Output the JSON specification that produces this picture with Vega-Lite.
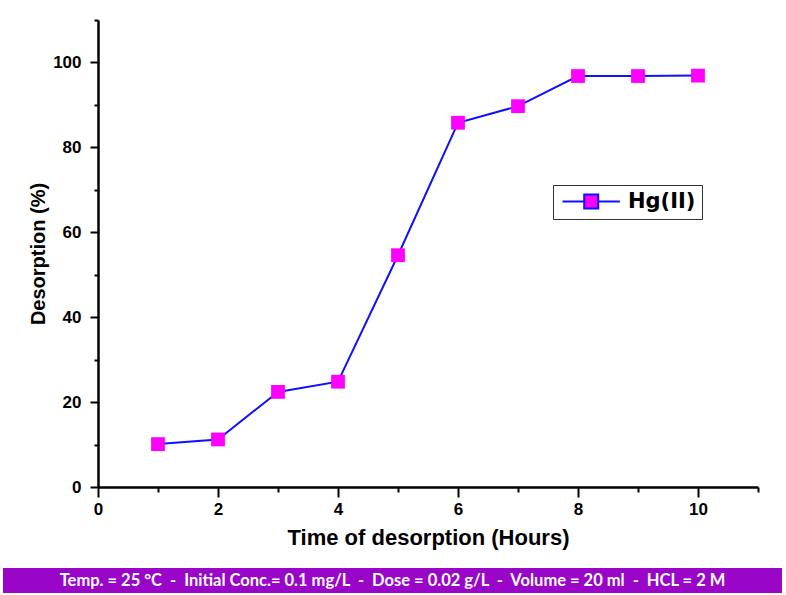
{
  "$schema": "https://vega.github.io/schema/vega-lite/v6.json",
  "background": "white",
  "padding": {"left": 3, "top": 19, "right": 4, "bottom": 3},
  "spacing": 20,
  "config": {
    "view": {"stroke": null},
    "font": "Liberation Sans"
  },
  "datasets": {
    "desorption": [
      {"time": 1, "desorption": 10.1, "series": "Hg(II)"},
      {"time": 2, "desorption": 11.2, "series": "Hg(II)"},
      {"time": 3, "desorption": 22.4, "series": "Hg(II)"},
      {"time": 4, "desorption": 24.8, "series": "Hg(II)"},
      {"time": 5, "desorption": 54.6, "series": "Hg(II)"},
      {"time": 6, "desorption": 85.8, "series": "Hg(II)"},
      {"time": 7, "desorption": 89.7, "series": "Hg(II)"},
      {"time": 8, "desorption": 96.8, "series": "Hg(II)"},
      {"time": 9, "desorption": 96.8, "series": "Hg(II)"},
      {"time": 10, "desorption": 96.9, "series": "Hg(II)"}
    ],
    "caption": [
      {"text": "Temp. = 25 °C\u00a0\u00a0-\u00a0\u00a0Initial Conc.= 0.1 mg/L\u00a0\u00a0-\u00a0\u00a0Dose = 0.02 g/L\u00a0\u00a0-\u00a0\u00a0Volume = 20 ml\u00a0\u00a0-\u00a0\u00a0HCL = 2 M"}
    ],
    "empty": []
  },
  "vconcat": [
    {
      "spacing": 24,
      "hconcat": [
        {
          "width": 1,
          "height": 467,
          "view": {"fill": "white", "stroke": null},
          "data": {"name": "empty"},
          "mark": {"type": "text"},
          "encoding": {}
        },
        {
          "width": 660,
          "height": 467,
          "data": {"name": "desorption"},
          "encoding": {
            "x": {
              "field": "time",
              "type": "quantitative",
              "scale": {"domain": [0, 11], "nice": false, "zero": false},
              "axis": {
                "title": "Time of desorption (Hours)",
                "values": [0, 1, 2, 3, 4, 5, 6, 7, 8, 9, 10, 11],
                "labelExpr": "datum.value % 2 === 0 ? datum.label : ''",
                "grid": false,
                "domainColor": "black",
                "domainWidth": 2.5,
                "tickColor": "black",
                "tickWidth": 2,
                "tickSize": {"condition": {"test": "datum.value % 2 === 0", "value": 10}, "value": 5},
                "labelFont": "Liberation Sans",
                "labelFontSize": 17,
                "labelFontWeight": "bold",
                "labelColor": "black",
                "labelPadding": 4,
                "labelFlush": false,
                "titleFont": "Liberation Sans",
                "titleFontSize": 22,
                "titleFontWeight": "bold",
                "titleColor": "black",
                "titlePadding": 10
              }
            },
            "y": {
              "field": "desorption",
              "type": "quantitative",
              "scale": {"domain": [0, 110], "nice": false, "zero": true},
              "axis": {
                "title": "Desorption (%)",
                "values": [0, 10, 20, 30, 40, 50, 60, 70, 80, 90, 100, 110],
                "labelExpr": "datum.value % 20 === 0 && datum.value <= 100 ? datum.label : ''",
                "grid": false,
                "domainColor": "black",
                "domainWidth": 2.5,
                "tickColor": "black",
                "tickWidth": 2,
                "tickSize": {"condition": {"test": "datum.value % 20 === 0 && datum.value <= 100", "value": 8}, "value": 4},
                "labelFont": "Liberation Sans",
                "labelFontSize": 17,
                "labelFontWeight": "bold",
                "labelColor": "black",
                "labelPadding": 9,
                "labelFlush": false,
                "titleFont": "Liberation Sans",
                "titleFontSize": 20,
                "titleFontWeight": "bold",
                "titleColor": "black",
                "titlePadding": 4
              }
            }
          },
          "layer": [
            {
              "mark": {"type": "line", "strokeWidth": 2, "color": "#1010ff"},
              "encoding": {}
            },
            {
              "mark": {"type": "point", "shape": "square", "filled": true, "size": 190, "opacity": 1},
              "encoding": {
                "color": {
                  "field": "series",
                  "type": "nominal",
                  "scale": {"range": ["#ff00ff"]},
                  "legend": {
                    "title": null,
                    "orient": "none",
                    "legendX": 550,
                    "legendY": 165,
                    "padding": 6,
                    "strokeColor": "#333333",
                    "fillColor": "white",
                    "cornerRadius": 0,
                    "symbolType": "M-1,0H2.1M4.1,0H7.2M2.1,-1H4.1V1H2.1Z",
                    "symbolSize": 196,
                    "symbolFillColor": "#ff00ff",
                    "symbolStrokeColor": "#1010ff",
                    "symbolStrokeWidth": 2,
                    "symbolOpacity": 1,
                    "labelOffset": 48,
                    "labelFont": "DejaVu Sans",
                    "labelFontSize": 21,
                    "labelFontWeight": "bold",
                    "labelColor": "black"
                  }
                }
              }
            }
          ]
        }
      ]
    },
    {
      "width": 779,
      "height": 25,
      "view": {"fill": "#9a06c8", "stroke": null},
      "data": {"name": "caption"},
      "mark": {
        "type": "text",
        "color": "white",
        "font": "Lato",
        "fontWeight": "bold",
        "fontSize": 16.5,
        "align": "center",
        "baseline": "middle"
      },
      "encoding": {
        "text": {"field": "text", "type": "nominal"}
      }
    }
  ]
}
